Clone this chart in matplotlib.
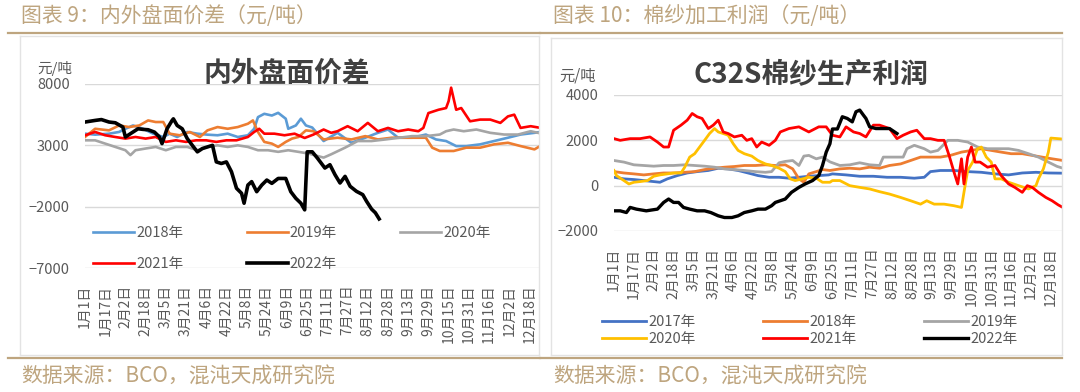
import matplotlib
matplotlib.use("Agg")
import numpy as np
import matplotlib.pyplot as plt
from matplotlib.lines import Line2D

plt.rcParams['font.family'] = ['Noto Sans CJK SC', 'DejaVu Sans']

W, H = 1080, 392
TAN = "#bea57f"
GRID = "#d9d9d9"
TXT = "#595959"

# x axis labels, one every 16 days
date_labels = ["1月1日", "1月17日", "2月2日", "2月18日", "3月5日", "3月21日", "4月6日", "4月22日",
               "5月8日", "5月24日", "6月9日", "6月25日", "7月11日", "7月27日", "8月12日", "8月28日",
               "9月13日", "9月29日", "10月15日", "10月31日", "11月16日", "12月2日", "12月18日"]

# ---- left chart: 内外盘面价差 (day of year, yuan/ton) ----
l18_day = [0, 8, 19, 27, 32, 38, 46, 54, 62, 67, 73, 81, 89, 97, 105, 113, 121, 129, 134, 137,
           142, 148, 153, 159, 161, 167, 171, 175, 180, 189, 200, 211, 222, 232, 240, 248, 259, 270, 278, 286,
           294, 302, 313, 324, 335, 345, 356, 365]
l18_val = [3950, 3870, 3950, 4090, 4350, 4620, 4350, 3950, 3680, 3950, 3680, 4090, 3950, 3870, 3820, 3950, 3680, 3820, 4350, 5300,
           5570, 5430, 5650, 5170, 4350, 4620, 5170, 4620, 4450, 3350, 4020, 3210, 3620, 4020, 4290, 3620, 3620, 3880, 3480, 3350,
           2940, 2940, 3080, 3350, 3620, 3880, 4020, 4150]

l19_day = [0, 8, 19, 27, 35, 43, 50, 56, 62, 67, 75, 83, 91, 97, 105, 113, 121, 129, 133, 137,
           142, 148, 153, 159, 164, 169, 175, 181, 189, 200, 211, 222, 232, 243, 254, 262, 270, 275, 281, 292,
           302, 313, 324, 335, 345, 356, 365]
l19_val = [3680, 4350, 4220, 4620, 4490, 4620, 5030, 4900, 4900, 3950, 3820, 4090, 3680, 4220, 4490, 4350, 4490, 4760, 5030, 4090,
           3280, 3140, 2870, 3280, 3550, 3680, 4220, 4150, 3480, 3620, 3480, 3750, 3480, 3620, 3620, 3620, 3620, 2810, 2540, 2540,
           2810, 2810, 3080, 3210, 2940, 2670, 3210]

l20_day = [0, 8, 16, 24, 32, 36, 40, 48, 56, 64, 72, 81, 89, 97, 105, 113, 121, 129, 137, 145,
           153, 161, 169, 177, 189, 195, 206, 216, 227, 238, 249, 259, 270, 281, 286, 292, 300, 310, 321, 332,
           343, 353, 365]
l20_val = [3410, 3410, 3140, 2870, 2600, 2200, 2600, 2740, 2870, 2600, 2870, 2870, 2600, 2870, 3000, 2870, 3000, 2870, 2600, 2600,
           2470, 2600, 2470, 2330, 2000, 2270, 2810, 3350, 3350, 3480, 3620, 3750, 3750, 3880, 4150, 4290, 4150, 4290, 4020, 3880,
           3880, 4150, 3880]

l21_day = [0, 8, 16, 24, 32, 40, 48, 56, 64, 72, 80, 88, 96, 104, 112, 120, 129, 134, 138, 142,
           150, 158, 166, 174, 181, 189, 195, 200, 208, 216, 224, 232, 240, 248, 256, 264, 268, 272, 280, 286,
           288, 290, 292, 294, 298, 305, 313, 321, 329, 335, 340, 345, 353, 361, 365]
l21_val = [3820, 4090, 3820, 3680, 3550, 3680, 3550, 3680, 3280, 3410, 3280, 3410, 3410, 3280, 3410, 3410, 3680, 4090, 4350, 3950,
           3950, 3820, 3950, 3600, 3880, 4290, 4020, 4150, 4560, 4150, 4830, 4150, 4420, 4150, 4290, 4150, 4420, 5630, 5900, 6040,
           6600, 7700, 6800, 5900, 6040, 4960, 5100, 5100, 4830, 5360, 5500, 4420, 4560, 4420, 4690]

l22_day = [0, 8, 13, 19, 24, 30, 32, 36, 42, 46, 50, 55, 59, 61, 65, 69, 70, 73, 77, 81,
           85, 89, 93, 97, 101, 104, 108, 112, 116, 120, 124, 126, 129, 132, 136, 140, 144, 148, 153, 159,
           163, 167, 171, 174, 176, 180, 184, 190, 194, 198, 202, 206, 210, 215, 220, 223, 227, 230, 233]
l22_val = [4900, 5030, 5100, 4900, 4840, 4490, 3680, 3950, 4350, 4300, 4270, 4080, 3680, 3140, 4350, 5030, 5160, 4620, 4350, 3550,
           3000, 2470, 2740, 2870, 3000, 1650, 1520, 1650, 850, -500, -910, -1720, -240, 40, -780, -240, 170, -100, 300, 300,
           -780, -1320, -1720, -2260, 2470, 2470, 1970, 1150, 1420, 610, -70, 470, -340, -750, -1020, -1560, -2200, -2500, -3000]

# ---- right chart: C32S棉纱生产利润 ----
r17_day = [0, 8, 16, 24, 32, 37, 43, 51, 59, 67, 76, 84, 92, 100, 108, 116, 125, 133, 141, 149,
           157, 165, 173, 176, 187, 198, 209, 220, 231, 242, 250, 255, 263, 274, 285, 296, 307, 318, 329, 340,
           350, 363]
r17_val = [370, 300, 270, 225, 180, 150, 300, 445, 560, 620, 670, 770, 740, 670, 560, 445, 370, 370, 330, 370,
           415, 445, 475, 520, 475, 415, 415, 370, 370, 330, 370, 620, 670, 670, 620, 590, 520, 475, 560, 590,
           560, 550]

r18_day = [0, 8, 16, 24, 32, 40, 48, 57, 65, 73, 81, 89, 97, 105, 114, 122, 130, 138, 144, 149,
           153, 157, 163, 168, 174, 182, 190, 198, 206, 214, 222, 231, 239, 247, 255, 263, 271, 280, 288, 296,
           304, 312, 320, 329, 337, 345, 353, 363]
r18_val = [620, 560, 520, 475, 520, 560, 560, 590, 620, 710, 770, 815, 845, 890, 890, 920, 890, 920, 740, 300,
           150, 520, 620, 710, 670, 740, 770, 740, 815, 770, 890, 960, 1110, 1260, 1260, 1260, 1335, 1480, 1555, 1630,
           1555, 1480, 1410, 1410, 1335, 1260, 1185, 1100]

r19_day = [0, 8, 16, 24, 32, 40, 48, 57, 65, 73, 81, 89, 97, 105, 114, 122, 127, 133, 138, 144,
           149, 153, 157, 163, 168, 174, 182, 190, 198, 206, 214, 217, 225, 233, 236, 242, 250, 255, 261, 269,
           277, 285, 293, 301, 310, 318, 326, 334, 342, 350, 357, 363]
r19_val = [1110, 1040, 920, 890, 860, 890, 890, 920, 890, 860, 815, 740, 710, 670, 620, 590, 620, 1010, 1070, 1110,
           890, 1305, 1335, 1185, 1260, 1050, 890, 920, 1010, 920, 890, 1260, 1260, 1260, 1630, 1780, 1630, 1480, 1555, 2000,
           2000, 1925, 1705, 1630, 1630, 1630, 1555, 1410, 1260, 1040, 850, 750]

r20_day = [0, 2, 8, 12, 16, 21, 27, 32, 37, 43, 48, 54, 57, 61, 65, 69, 73, 77, 81, 84,
           88, 92, 96, 100, 105, 111, 116, 122, 127, 133, 138, 142, 146, 152, 157, 163, 168, 174, 176, 182,
           190, 198, 206, 214, 222, 231, 239, 247, 252, 258, 266, 274, 280, 282, 285, 289, 293, 296, 300, 304,
           307, 312, 318, 326, 334, 340, 342, 346, 350, 352, 363]
r20_val = [670, 445, 225, 75, 150, 180, 225, 415, 475, 520, 560, 560, 815, 1260, 1410, 1705, 2000, 2300, 2520, 2370,
           2300, 2225, 1855, 1555, 1410, 1305, 1110, 960, 890, 770, 620, 300, 225, 300, 370, 330, 150, 150, 225, 225,
           0, -75, -145, -265, -370, -520, -665, -815, -665, -815, -815, -885, -960, -295, 670, 1040, 1630, 1705, 1260, 1040,
           300, 300, 150, 0, -145, 0, 300, 740, 1480, 2100, 2050]

r21_day = [0, 5, 13, 21, 29, 35, 40, 44, 48, 54, 59, 63, 67, 71, 76, 80, 84, 88, 92, 97,
           103, 107, 111, 115, 119, 125, 130, 134, 141, 149, 157, 165, 171, 176, 182, 187, 193, 198, 203, 209,
           214, 222, 228, 233, 239, 244, 250, 255, 261, 266, 270, 274, 277, 280, 282, 285, 288, 291, 295, 301,
           307, 312, 318, 323, 329, 333, 337, 342, 348, 353, 358, 363]
r21_val = [2075, 2000, 2075, 2075, 2150, 1925, 1705, 1705, 2445, 2670, 2890, 3185, 3040, 2965, 2520, 2670, 2890, 2370, 2300, 2150,
           2225, 2000, 2075, 1705, 1925, 1780, 2000, 2370, 2520, 2595, 2370, 2595, 2595, 2225, 2150, 2595, 2370, 2300, 2150, 2670,
           2670, 2520, 2075, 2225, 2370, 2445, 2075, 2075, 2000, 2000, 1335, 595, 75, 1185, 75, 1260, 1705, 1040, 1040, 815,
           890, 445, 75, -75, -295, 0, -75, -295, -520, -665, -850, -1000]

r22_day = [0, 5, 10, 13, 18, 26, 35, 40, 44, 48, 52, 56, 61, 67, 73, 78, 84, 89, 95, 100,
           105, 111, 116, 122, 127, 130, 138, 143, 149, 154, 160, 165, 168, 171, 174, 176, 180, 184, 188, 192,
           195, 198, 201, 203, 206, 211, 217, 222, 228]
r22_val = [-1110, -1110, -1185, -960, -1035, -1110, -1035, -740, -590, -740, -740, -960, -1035, -1110, -1110, -1185, -1330, -1405, -1405, -1330,
           -1185, -1110, -1035, -1035, -885, -740, -590, -295, -75, 75, 225, 445, 890, 1480, 1850, 2500, 2500, 3040, 2965, 2815,
           3260, 3335, 3110, 2965, 2595, 2520, 2520, 2520, 2300]


def fx(px):
    return px / W


def fy(py):
    return 1 - py / H


def px_axes(fig, left, top, right, bottom):
    return fig.add_axes([fx(left), fy(bottom), (right - left) / W, (bottom - top) / H])


def style_axes(ax, yticks, xlim):
    ax.set_xlim(*xlim)
    ax.set_ylim(yticks[0], yticks[-1])
    ax.set_yticks(yticks)
    ax.set_xticks(np.arange(len(date_labels)) * 16)
    ax.set_xticklabels(date_labels, rotation=90, fontsize=10, color=TXT)
    ax.tick_params(axis="y", length=0, pad=11, labelsize=10.5, labelcolor=TXT)
    ax.tick_params(axis="x", length=0, pad=12)
    for s in ax.spines.values():
        s.set_visible(False)
    ax.grid(axis="y", color=GRID, lw=1)
    ax.set_axisbelow(True)
    ax.patch.set_alpha(0)


def panel_frame(fig, x0, x1, box_x0, box_x1, box_top, header):
    fig.text(fx(x0 + 13), fy(16), header, color=TAN, fontsize=15, va="center", ha="left")
    fig.add_artist(Line2D([fx(x0), fx(x1)], [fy(32.5), fy(32.5)], color=TAN, lw=1.6))
    fig.add_artist(Line2D([fx(x0), fx(x1)], [fy(358), fy(358)], color=TAN, lw=1.6))
    # light chart border
    for xs, ys in [([box_x0, box_x0], [box_top, 355]), ([box_x1, box_x1], [box_top, 355]),
                   ([box_x0, box_x1], [box_top, box_top]), ([box_x0, box_x1], [355, 355])]:
        fig.add_artist(Line2D([fx(v) for v in xs], [fy(v) for v in ys], color="#e3e3e3", lw=1))
    fig.text(fx(x0 + 13), fy(377), "数据来源：BCO，混沌天成研究院", color=TAN, fontsize=15, va="center", ha="left")


fig = plt.figure(figsize=(W / 100, H / 100), dpi=100)

# ================= left panel =================
panel_frame(fig, 8, 540, 20, 539, 36, "图表 9：内外盘面价差（元/吨）")
ax1 = px_axes(fig, 85, 84, 539, 268)
style_axes(ax1, [-7000, -2000, 3000, 8000], (0, 359.6))
ax1.plot(l18_day, l18_val, color="#5b9bd5", lw=1.9, label="2018年")
ax1.plot(l19_day, l19_val, color="#ed7d31", lw=1.9, label="2019年")
ax1.plot(l20_day, l20_val, color="#a5a5a5", lw=1.9, label="2020年")
ax1.plot(l21_day, l21_val, color="#ff0000", lw=1.9, label="2021年")
ax1.plot(l22_day, l22_val, color="#000000", lw=2.6, label="2022年")
h, lab = ax1.get_legend_handles_labels()
order = [0, 3, 1, 4, 2]
ax1.legend([h[i] for i in order], [lab[i] for i in order], ncol=3, frameon=False,
           loc="upper left", bbox_to_anchor=(fx(93), fy(226)), bbox_transform=fig.transFigure,
           borderaxespad=0, borderpad=0, handlelength=2.8, handletextpad=0.15,
           columnspacing=4.35, labelspacing=1.16, fontsize=10.5, labelcolor=TXT)
fig.text(fx(287), fy(74), "内外盘面价差", fontsize=20, fontweight="bold", color="#404040",
         ha="center", va="center")
fig.text(fx(37), fy(68), "元/吨", fontsize=10.5, color=TXT, ha="left", va="center")

# ================= right panel =================
panel_frame(fig, 540, 1062, 551, 1062, 38, "图表 10：棉纱加工利润（元/吨）")
ax2 = px_axes(fig, 614, 95, 1062, 231)
style_axes(ax2, [-2000, 0, 2000, 4000], (0, 361))
ax2.plot(r17_day, r17_val, color="#4472c4", lw=2.0, label="2017年")
ax2.plot(r18_day, r18_val, color="#ed7d31", lw=2.0, label="2018年")
ax2.plot(r19_day, r19_val, color="#a5a5a5", lw=2.0, label="2019年")
ax2.plot(r20_day, r20_val, color="#ffc000", lw=2.0, label="2020年")
ax2.plot(r21_day, r21_val, color="#ff0000", lw=2.0, label="2021年")
ax2.plot(r22_day, r22_val, color="#000000", lw=2.4, label="2022年")
h, lab = ax2.get_legend_handles_labels()
order = [0, 3, 1, 4, 2, 5]
ax2.legend([h[i] for i in order], [lab[i] for i in order], ncol=3, frameon=False,
           loc="upper left", bbox_to_anchor=(fx(602), fy(315)), bbox_transform=fig.transFigure,
           borderaxespad=0, borderpad=0, handlelength=3.0, handletextpad=0.15,
           columnspacing=4.65, labelspacing=0.24, fontsize=10.5, labelcolor=TXT)
fig.text(fx(811), fy(75), "C32S棉纱生产利润", fontsize=20, fontweight="bold", color="#404040",
         ha="center", va="center")
fig.text(fx(559), fy(76), "元/吨", fontsize=11, color=TXT, ha="left", va="center")

fig.savefig("out.png", dpi=100)
